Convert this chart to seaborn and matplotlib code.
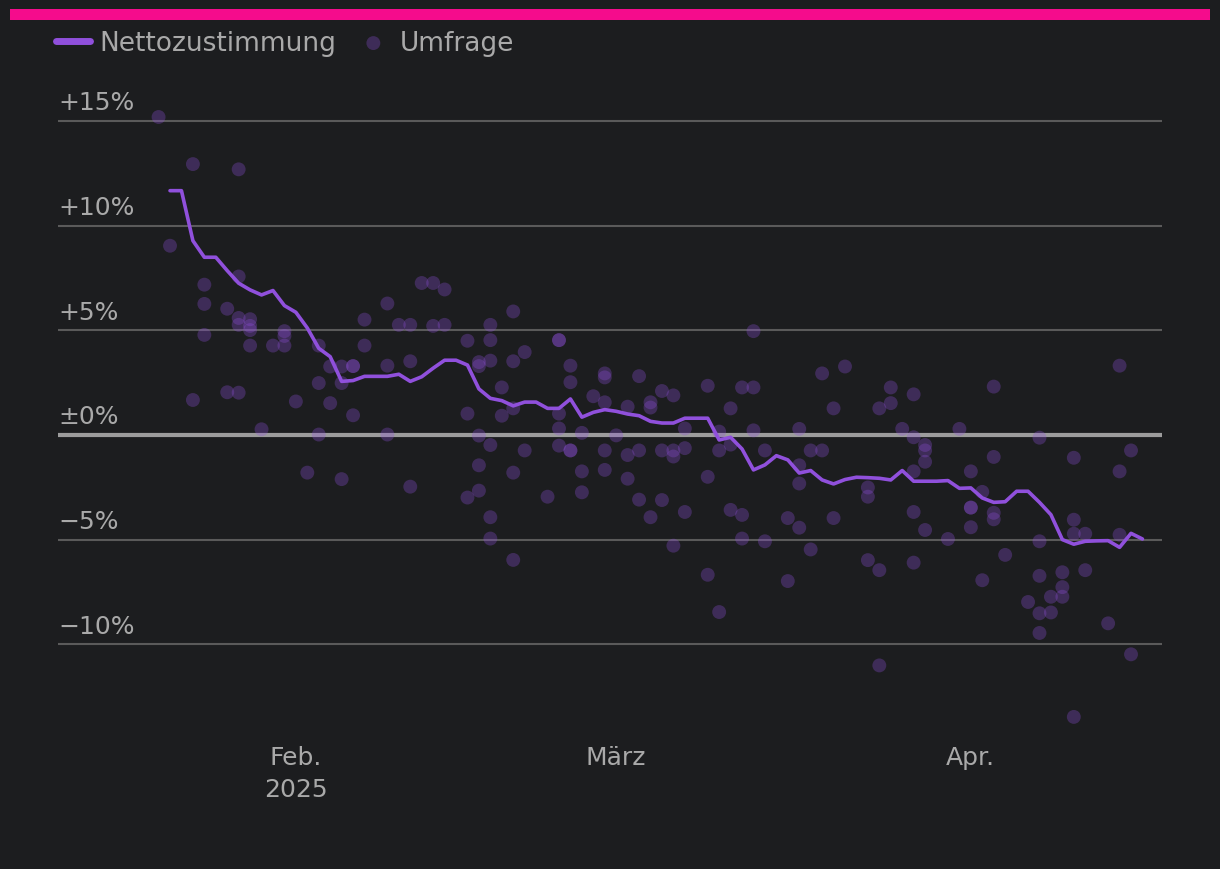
import matplotlib
matplotlib.use("Agg")
import matplotlib.pyplot as plt
import matplotlib.transforms as mtransforms
from matplotlib.patches import Rectangle
import seaborn as sns
import pandas as pd

# ---------------- data ----------------
trend_start = "2025-01-21"
trend_values = [
    11.67, 11.67, 9.28, 8.49, 8.49, 7.85, 7.25, 6.93, 6.69, 6.90, 6.18,          # Jan 21-31
    5.86, 5.11, 4.14, 3.74, 2.56, 2.60, 2.80, 2.80, 2.80, 2.90, 2.56, 2.78,       # Feb 1-12
    3.19, 3.57, 3.57, 3.34, 2.20, 1.75, 1.64, 1.39, 1.57, 1.57, 1.27, 1.27,       # Feb 13-24
    1.72, 0.85, 1.08, 1.21,                                                       # Feb 25-28
    1.13, 1.00, 0.92, 0.65, 0.57, 0.57, 0.80, 0.80, 0.80, -0.24, -0.11, -0.67,    # Mar 1-12
    -1.67, -1.43, -0.99, -1.19, -1.82, -1.70, -2.15, -2.34, -2.13, -2.02, -2.04,  # Mar 13-23
    -2.07, -2.15, -1.70, -2.21, -2.21, -2.21, -2.18, -2.55,                       # Mar 24-31
    -2.53, -3.01, -3.22, -3.19, -2.69, -2.69, -3.22, -3.81, -5.00, -5.22, -5.08,  # Apr 1-11
    -5.06, -5.05, -5.37, -4.70, -4.97,                                            # Apr 12-16
]

poll_dates = (
    ["2025-01-20"] + ["2025-01-21"] + ["2025-01-23"] * 2 + ["2025-01-24"] * 3
    + ["2025-01-26"] * 2 + ["2025-01-27"] * 5 + ["2025-01-28"] * 4 + ["2025-01-29"]
    + ["2025-01-30"] + ["2025-01-31"] * 3
    + ["2025-02-01"] + ["2025-02-02"] + ["2025-02-03"] * 3 + ["2025-02-04"] * 2
    + ["2025-02-05"] * 3 + ["2025-02-06"] * 3 + ["2025-02-07"] * 2 + ["2025-02-09"] * 3
    + ["2025-02-10"] + ["2025-02-11"] * 3 + ["2025-02-12"] + ["2025-02-13"] * 2
    + ["2025-02-14"] * 2 + ["2025-02-16"] * 3 + ["2025-02-17"] * 5 + ["2025-02-18"] * 6
    + ["2025-02-19"] * 2 + ["2025-02-20"] * 5 + ["2025-02-21"] * 2 + ["2025-02-23"]
    + ["2025-02-24"] * 5 + ["2025-02-25"] * 4 + ["2025-02-26"] * 3 + ["2025-02-27"]
    + ["2025-02-28"] * 5
    + ["2025-03-01"] + ["2025-03-02"] * 3 + ["2025-03-03"] * 3 + ["2025-03-04"] * 3
    + ["2025-03-05"] * 3 + ["2025-03-06"] * 4 + ["2025-03-07"] * 3 + ["2025-03-09"] * 3
    + ["2025-03-10"] * 3 + ["2025-03-11"] * 3 + ["2025-03-12"] * 3 + ["2025-03-13"] * 3
    + ["2025-03-14"] * 2 + ["2025-03-16"] * 2 + ["2025-03-17"] * 4 + ["2025-03-18"] * 2
    + ["2025-03-19"] * 2 + ["2025-03-20"] * 2 + ["2025-03-21"] + ["2025-03-23"] * 3
    + ["2025-03-24"] * 3 + ["2025-03-25"] * 2 + ["2025-03-26"] + ["2025-03-27"] * 5
    + ["2025-03-28"] * 4 + ["2025-03-30"] + ["2025-03-31"]
    + ["2025-04-01"] * 4 + ["2025-04-02"] * 2 + ["2025-04-03"] * 4 + ["2025-04-04"]
    + ["2025-04-06"] + ["2025-04-07"] * 5 + ["2025-04-08"] * 2 + ["2025-04-09"] * 3
    + ["2025-04-10"] * 4 + ["2025-04-11"] * 2 + ["2025-04-13"] + ["2025-04-14"] * 3
    + ["2025-04-15"] * 2
)
poll_values = [
    15.19, 9.04, 12.94, 1.67, 7.18, 6.26, 4.78,
    6.03, 2.04, 12.69, 7.57, 5.59, 5.26, 2.02, 5.53, 5.21, 5.01, 4.27, 0.27,
    4.27, 4.96, 4.73, 4.27,
    1.60, -1.80, 4.27, 2.48, 0.02, 3.27, 1.52,
    3.27, 2.48, -2.11, 3.29, 3.29, 0.94, 5.51, 4.27, 6.28, 3.31, 0.02,
    5.26, 5.26, 3.52, -2.47, 7.26, 7.26, 5.21,
    6.95, 5.26, 4.50, 1.02, -2.99, 3.48, 3.29, -0.03, -1.45, -2.66,
    5.26, 4.53, 3.55, -0.48, -3.93, -4.95,
    2.27, 0.92, 5.90, 3.52, 1.27, -1.80, -5.97, 3.96, -0.74, -2.95,
    4.53, 4.53, 1.02, 0.31, -0.51, 3.31, 2.52, -0.74, -0.74, 0.10, -1.74, -2.74, 1.85,
    2.94, 2.75, 1.56, -0.74, -1.67,
    -0.02, 1.35, -0.96, -2.09, 2.81, -0.74, -3.09, 1.56, 1.31, -3.93,
    2.10, -0.74, -3.11, 1.89, -0.74, -1.03, -5.29, 0.31, -0.63, -3.68, 2.35, -2.00, -6.68,
    0.16, -0.74, -8.46, 1.27, -0.46, -3.58, 2.27, -3.82, -4.95, 4.96, 2.27, 0.22,
    -0.74, -5.08, -3.97, -6.98, 0.29, -1.45, -2.32, -4.43, -0.74, -5.47,
    2.94, -0.74, 1.27, -3.97, 3.27, -2.51, -2.95, -5.98,
    1.27, -6.46, -11.01, 2.27, 1.52, 0.29, 1.94, -0.11, -1.74, -3.68, -6.10,
    -0.48, -0.74, -1.28, -4.54, -4.97, 0.29,
    -1.74, -3.47, -3.47, -4.41, -2.72, -6.94, 2.31, -1.05, -3.72, -4.03, -5.73,
    -7.98, -0.13, -5.08, -6.73, -8.52, -9.46, -7.73, -8.48, -6.56, -7.27, -7.73,
    -1.09, -4.05, -4.72, -13.47, -4.72, -6.46, -9.00, 3.31, -1.74, -4.77,
    -0.74, -10.48,
]

y_ticks = [15, 10, 5, 0, -5, -10]
y_tick_labels = ["+15%", "+10%", "+5%", "±0%", "−5%", "−10%"]
x_ticks = ["2025-02-01", "2025-03-01", "2025-04-01"]
x_tick_labels = ["Feb.\n2025", "März", "Apr."]
series_labels = ["Nettozustimmung", "Umfrage"]

# ---------------- style ----------------
BG = "#1c1d1f"
PURPLE = "#9050dc"
TEXT = "#a9a9a9"
GRID = "#5a5a5a"
ZERO = "#9c9c9c"
PINK = "#f50c8c"

sns.set_theme(style="dark")
plt.rcParams["font.family"] = ["DejaVu Sans"]
plt.rcParams["axes.unicode_minus"] = True

trend_df = pd.DataFrame({
    "date": pd.date_range(trend_start, periods=len(trend_values), freq="D"),
    "value": trend_values,
})
poll_df = pd.DataFrame({"date": pd.to_datetime(poll_dates), "value": poll_values})

fig = plt.figure(figsize=(12.2, 8.7), dpi=100, facecolor=BG)
ax = fig.add_axes([58 / 1220, 1 - 738 / 870, (1162 - 58) / 1220, (738 - 100) / 870])
ax.set_facecolor(BG)

sns.scatterplot(data=poll_df, x="date", y="value", ax=ax, color=PURPLE, alpha=0.3,
                s=100, edgecolor="none", linewidth=0, label=series_labels[1], zorder=3)
sns.lineplot(data=trend_df, x="date", y="value", ax=ax, color=PURPLE, linewidth=2.6,
             label=series_labels[0], zorder=4, solid_joinstyle="round")

ax.set_xlim(pd.Timestamp("2025-01-11 05:00"), pd.Timestamp("2025-04-17 17:00"))
ax.set_ylim(-14.43, 16.05)

ax.set_yticks(y_ticks)
ax.set_yticklabels(y_tick_labels, ha="left", va="baseline")
ax.set_xticks(pd.to_datetime(x_ticks))
ax.set_xticklabels(x_tick_labels, linespacing=1.42)
ax.tick_params(axis="both", length=0, labelsize=18, labelcolor=TEXT)
ax.tick_params(axis="y", pad=0)
ax.tick_params(axis="x", pad=6)
offset = mtransforms.ScaledTranslation(0, 11.5 / 100, fig.dpi_scale_trans)
for lbl in ax.yaxis.get_majorticklabels():
    lbl.set_transform(lbl.get_transform() + offset)

ax.grid(axis="y", color=GRID, linewidth=1.5)
ax.grid(axis="x", visible=False)
ax.axhline(0, color=ZERO, linewidth=3, zorder=2)
ax.set_xlabel("")
ax.set_ylabel("")
for sp in ax.spines.values():
    sp.set_visible(False)

# legend
handles, labels = ax.get_legend_handles_labels()
ax.get_legend().remove()
order = [labels.index(series_labels[0]), labels.index(series_labels[1])]
leg = fig.legend([handles[i] for i in order], [labels[i] for i in order],
                 loc="upper left", bbox_to_anchor=(56 / 1220, 1 - 31 / 870),
                 ncol=2, frameon=False, fontsize=19, labelcolor=TEXT,
                 handlelength=1.3, handletextpad=0.35, columnspacing=0.75,
                 borderpad=0, borderaxespad=0)
for ln in leg.get_lines():
    ln.set_linewidth(5)
    ln.set_solid_capstyle("round")

# top accent bar
fig.add_artist(Rectangle((10 / 1220, 1 - 21 / 870), 1200 / 1220, 11 / 870,
                         transform=fig.transFigure, color=PINK, lw=0))

fig.savefig("out.png", dpi=100, facecolor=BG)
